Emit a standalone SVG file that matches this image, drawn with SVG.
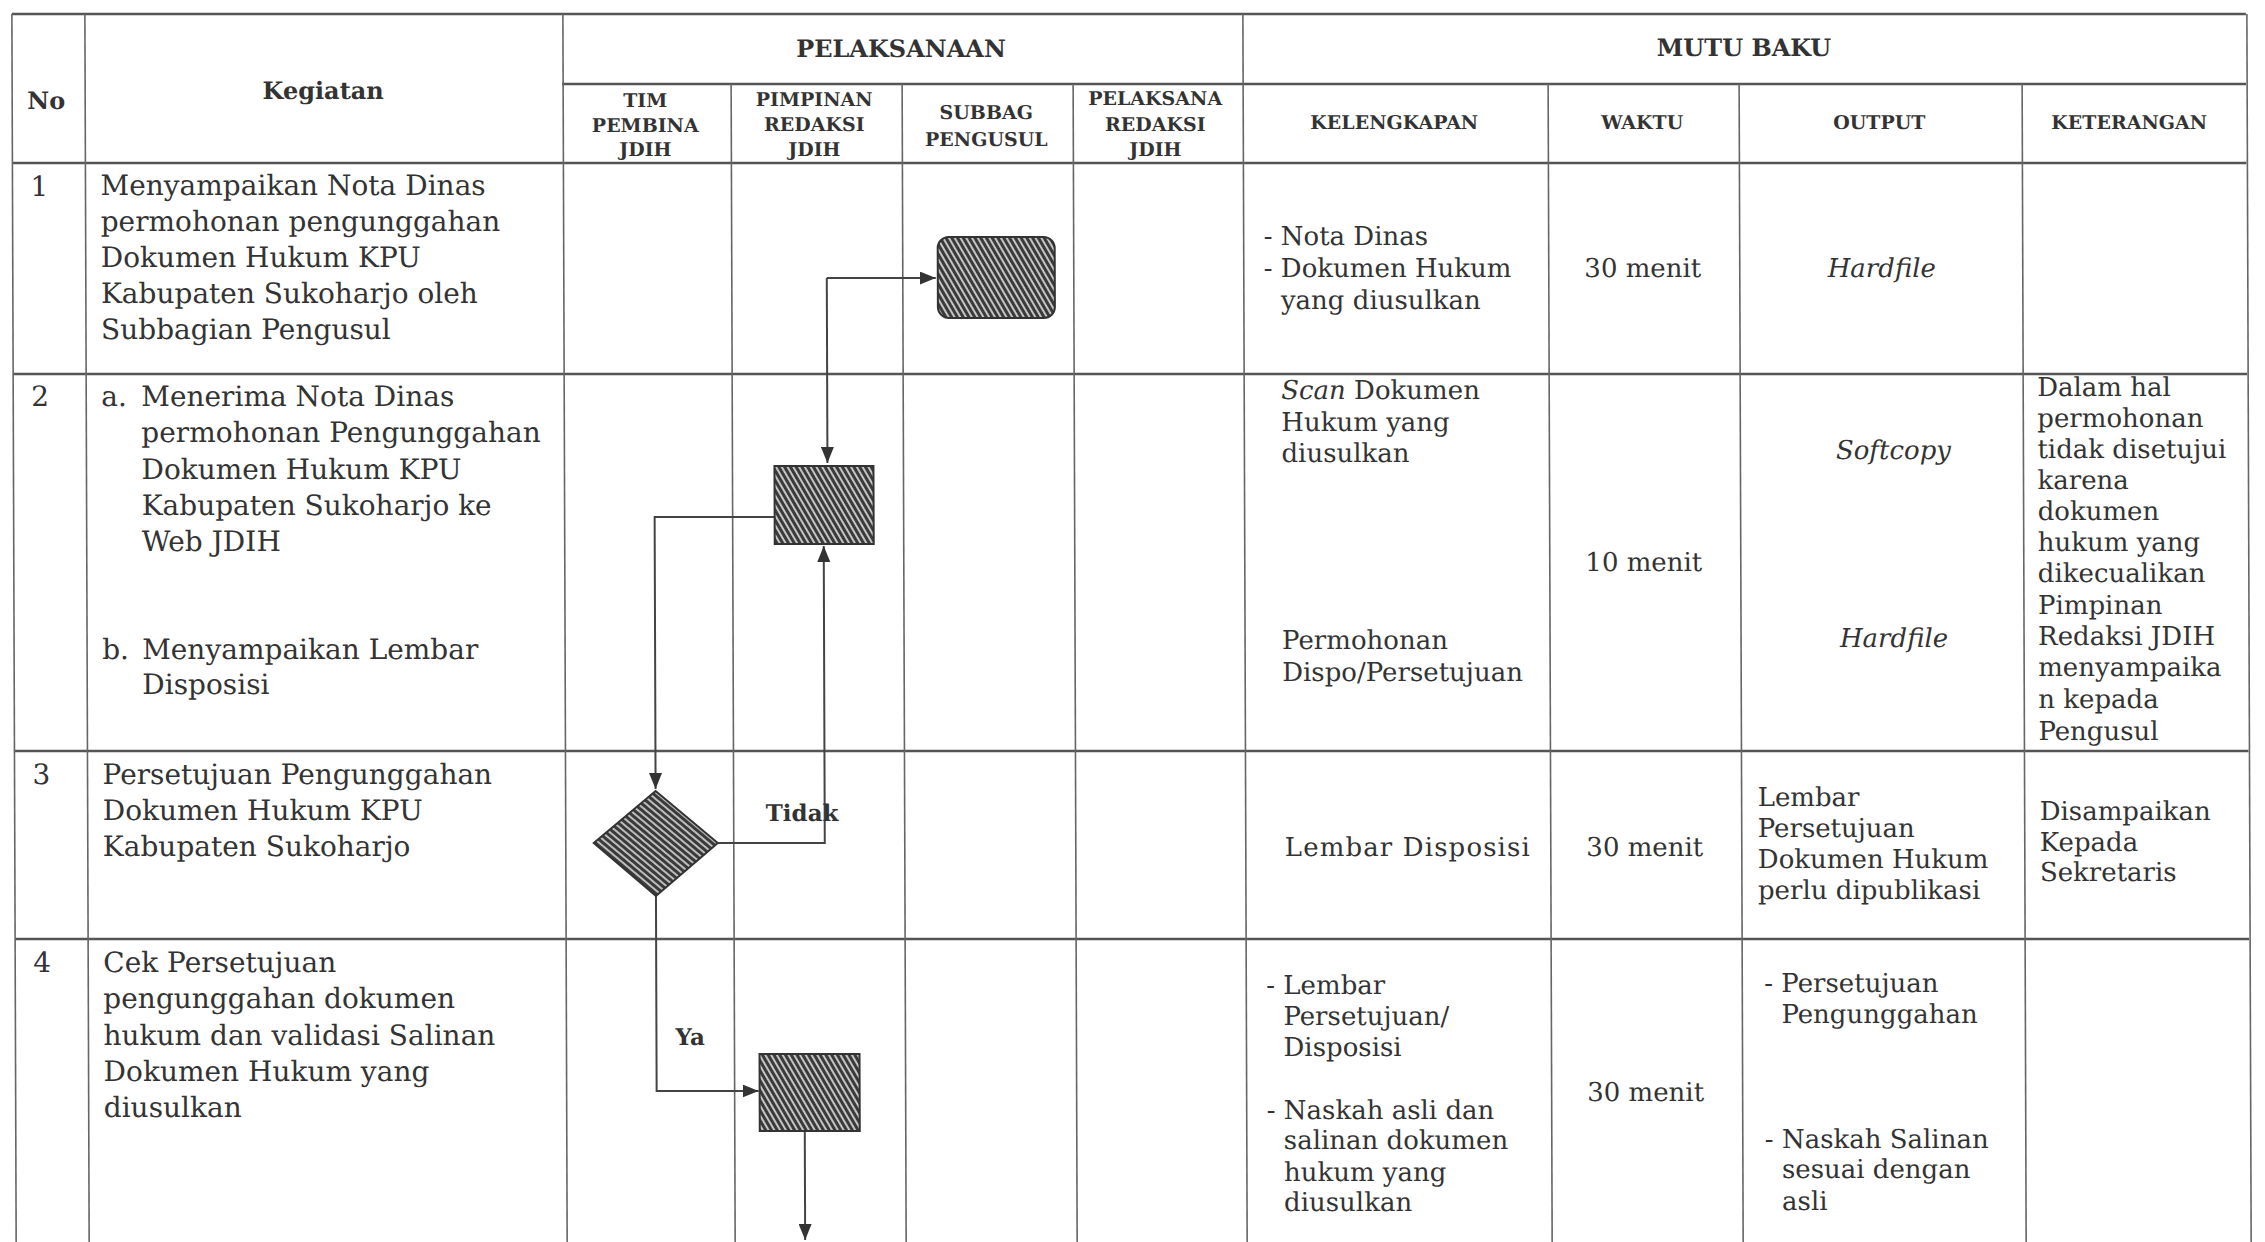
<svg xmlns="http://www.w3.org/2000/svg" width="2265" height="1242" viewBox="0 0 2265 1242">
<style>
.bg{fill:#ffffff}
.hl{stroke:#555;stroke-width:2.5;fill:none}
.vl{stroke:#666;stroke-width:1.6;fill:none}
.t{font-family:"DejaVu Serif",serif;font-size:28px;fill:#333}
.m{font-family:"DejaVu Serif",serif;font-size:26px;fill:#333}
.it{font-style:italic}
.h{font-family:"DejaVu Serif",serif;font-size:24px;font-weight:bold;fill:#333;text-anchor:middle}
.sh{font-family:"DejaVu Serif",serif;font-size:19px;font-weight:bold;fill:#333;text-anchor:middle}
.c{text-anchor:middle}
.lbl{font-family:"DejaVu Serif",serif;font-size:23px;font-weight:bold;fill:#333}
.conn{stroke:#444;stroke-width:2;fill:none;marker-end:url(#arr)}
.node{stroke:#333;stroke-width:2}
</style>
<defs>
<pattern id="hatchR" width="5" height="5" patternUnits="userSpaceOnUse" patternTransform="rotate(-30)">
<rect width="5" height="5" fill="#c4c4c4"/><rect width="3" height="5" fill="#3a3a3a"/>
</pattern>
<pattern id="hatchD" width="5" height="5" patternUnits="userSpaceOnUse" patternTransform="rotate(-50)">
<rect width="5" height="5" fill="#bdbdbd"/><rect width="3" height="5" fill="#3a3a3a"/>
</pattern>
<marker id="arr" viewBox="0 0 16 13" refX="16" refY="6.5" markerWidth="16" markerHeight="13" markerUnits="userSpaceOnUse" orient="auto">
<path d="M0,0 L16,6.5 L0,13 z" fill="#333"/>
</marker>
</defs>
<rect class="bg" x="0" y="0" width="2265" height="1242"/>

<g id="page" transform="translate(-2.17 0) skewX(0.2)">
<g id="table">
<line class="hl" x1="14" y1="14" x2="2248" y2="14"/>
<line class="hl" x1="564" y1="84" x2="2248" y2="84"/>
<line class="hl" x1="14" y1="163" x2="2248" y2="163"/>
<line class="hl" x1="14" y1="374" x2="2248" y2="374"/>
<line class="hl" x1="14" y1="751" x2="2248" y2="751"/>
<line class="hl" x1="14" y1="939" x2="2248" y2="939"/>
<line class="vl" x1="14" y1="14" x2="14" y2="1250"/>
<line class="vl" x1="87" y1="14" x2="87" y2="1250"/>
<line class="vl" x1="565" y1="14" x2="565" y2="1250"/>
<line class="vl" x1="733" y1="84" x2="733" y2="1250"/>
<line class="vl" x1="904" y1="84" x2="904" y2="1250"/>
<line class="vl" x1="1075" y1="84" x2="1075" y2="1250"/>
<line class="vl" x1="1245" y1="14" x2="1245" y2="1250"/>
<line class="vl" x1="1550" y1="84" x2="1550" y2="1250"/>
<line class="vl" x1="1741" y1="84" x2="1741" y2="1250"/>
<line class="vl" x1="2024" y1="84" x2="2024" y2="1250"/>
<line class="vl" x1="2249" y1="14" x2="2249" y2="1250"/>
</g>

<g id="header">
<text class="h" x="48" y="109">No</text>
<text class="h" x="325" y="99">Kegiatan</text>
<text class="h" x="903" y="57">PELAKSANAAN</text>
<text class="h" x="1746" y="56">MUTU BAKU</text>
<text class="sh" x="647"><tspan x="647" y="107">TIM</tspan><tspan x="647" y="132">PEMBINA</tspan><tspan x="647" y="156">JDIH</tspan></text>
<text class="sh" x="816"><tspan x="816" y="106">PIMPINAN</tspan><tspan x="816" y="131">REDAKSI</tspan><tspan x="816" y="156">JDIH</tspan></text>
<text class="sh" x="988"><tspan x="988" y="119">SUBBAG</tspan><tspan x="988" y="146">PENGUSUL</tspan></text>
<text class="sh" x="1157"><tspan x="1157" y="105">PELAKSANA</tspan><tspan x="1157" y="131">REDAKSI</tspan><tspan x="1157" y="156">JDIH</tspan></text>
<text class="sh" x="1396" y="129">KELENGKAPAN</text>
<text class="sh" x="1644" y="129">WAKTU</text>
<text class="sh" x="1881" y="129">OUTPUT</text>
<text class="sh" x="2131" y="129">KETERANGAN</text>
</g>

<g id="row1">
<text class="t" x="32" y="196">1</text>
<text class="t"><tspan x="102" y="195">Menyampaikan Nota Dinas</tspan><tspan x="102" y="231">permohonan pengunggahan</tspan><tspan x="102" y="267">Dokumen Hukum KPU</tspan><tspan x="102" y="303">Kabupaten Sukoharjo oleh</tspan><tspan x="102" y="339">Subbagian Pengusul</tspan></text>
<text class="m"><tspan x="1265" y="245">- Nota Dinas</tspan><tspan x="1265" y="277">- Dokumen Hukum</tspan><tspan x="1282" y="309">yang diusulkan</tspan></text>
<text class="m c" x="1644" y="277">30 menit</text>
<text class="m c it" x="1883" y="277">Hardfile</text>
</g>

<g id="row2">
<text class="t" x="32" y="406">2</text>
<text class="t"><tspan x="102" y="406">a.</tspan><tspan x="142" y="406">Menerima Nota Dinas</tspan><tspan x="142" y="442">permohonan Pengunggahan</tspan><tspan x="142" y="479">Dokumen Hukum KPU</tspan><tspan x="142" y="515">Kabupaten Sukoharjo ke</tspan><tspan x="142" y="551">Web JDIH</tspan><tspan x="102" y="659">b.</tspan><tspan x="142" y="659">Menyampaikan Lembar</tspan><tspan x="142" y="694">Disposisi</tspan></text>
<text class="m"><tspan x="1282" y="399"><tspan class="it">Scan</tspan> Dokumen</tspan><tspan x="1282" y="431">Hukum yang</tspan><tspan x="1282" y="462">diusulkan</tspan><tspan x="1282" y="649">Permohonan</tspan><tspan x="1282" y="681">Dispo/Persetujuan</tspan></text>
<text class="m c" x="1644" y="571">10 menit</text>
<text class="m c it" x="1894" y="459">Softcopy</text>
<text class="m c it" x="1894" y="647">Hardfile</text>
<text class="m"><tspan x="2038" y="396">Dalam hal</tspan><tspan x="2038" y="427">permohonan</tspan><tspan x="2038" y="458">tidak disetujui</tspan><tspan x="2038" y="489">karena</tspan><tspan x="2038" y="520">dokumen</tspan><tspan x="2038" y="551">hukum yang</tspan><tspan x="2038" y="582">dikecualikan</tspan><tspan x="2038" y="614">Pimpinan</tspan><tspan x="2038" y="645">Redaksi JDIH</tspan><tspan x="2038" y="676">menyampaika</tspan><tspan x="2038" y="708">n kepada</tspan><tspan x="2038" y="740">Pengusul</tspan></text>
</g>

<g id="row3">
<text class="t" x="32" y="784">3</text>
<text class="t"><tspan x="102" y="784">Persetujuan Pengunggahan</tspan><tspan x="102" y="820">Dokumen Hukum KPU</tspan><tspan x="102" y="856">Kabupaten Sukoharjo</tspan></text>
<text class="m" x="1284" y="856" textLength="245">Lembar Disposisi</text>
<text class="m c" x="1644" y="856">30 menit</text>
<text class="m"><tspan x="1757" y="806">Lembar</tspan><tspan x="1757" y="837">Persetujuan</tspan><tspan x="1757" y="868">Dokumen Hukum</tspan><tspan x="1757" y="899">perlu dipublikasi</tspan></text>
<text class="m"><tspan x="2039" y="820">Disampaikan</tspan><tspan x="2039" y="851">Kepada</tspan><tspan x="2039" y="881">Sekretaris</tspan></text>
</g>

<g id="row4">
<text class="t" x="32" y="972">4</text>
<text class="t"><tspan x="102" y="972">Cek Persetujuan</tspan><tspan x="102" y="1008">pengunggahan dokumen</tspan><tspan x="102" y="1045">hukum dan validasi Salinan</tspan><tspan x="102" y="1081">Dokumen Hukum yang</tspan><tspan x="102" y="1117">diusulkan</tspan></text>
<text class="m"><tspan x="1265" y="994">- Lembar</tspan><tspan x="1282" y="1025">Persetujuan/</tspan><tspan x="1282" y="1056">Disposisi</tspan><tspan x="1265" y="1119">- Naskah asli dan</tspan><tspan x="1282" y="1149">salinan dokumen</tspan><tspan x="1282" y="1181">hukum yang</tspan><tspan x="1282" y="1211">diusulkan</tspan></text>
<text class="m c" x="1644" y="1101">30 menit</text>
<text class="m"><tspan x="1763" y="992">- Persetujuan</tspan><tspan x="1780" y="1023">Pengunggahan</tspan><tspan x="1763" y="1148">- Naskah Salinan</tspan><tspan x="1780" y="1178">sesuai dengan</tspan><tspan x="1780" y="1210">asli</tspan></text>
</g>

<g id="connectors">
<path class="conn" d="M828,278 H937"/>
<path class="conn" d="M828,278 V463"/>
<path class="conn" d="M775,517 H655 V789"/>
<path class="conn" d="M717,843 H824 V546"/>
<path class="conn" d="M655,896 V1091 H757"/>
<path class="conn" d="M803,1131 V1240"/>
<text class="lbl" x="765" y="821">Tidak</text>
<text class="lbl" x="674" y="1045">Ya</text>
</g>

<g id="node-subbag-1"><rect class="node" x="939" y="237" width="117" height="81" rx="11" fill="url(#hatchR)"/></g>
<g id="node-pimpinan-2"><rect class="node" x="775" y="466" width="99" height="78" fill="url(#hatchR)"/></g>
<g id="node-decision-3"><polygon class="node" points="655,791 717,843 655,896 593,843" fill="url(#hatchD)"/></g>
<g id="node-pimpinan-4"><rect class="node" x="758" y="1054" width="100" height="77" fill="url(#hatchR)"/></g>
</g>
</svg>
